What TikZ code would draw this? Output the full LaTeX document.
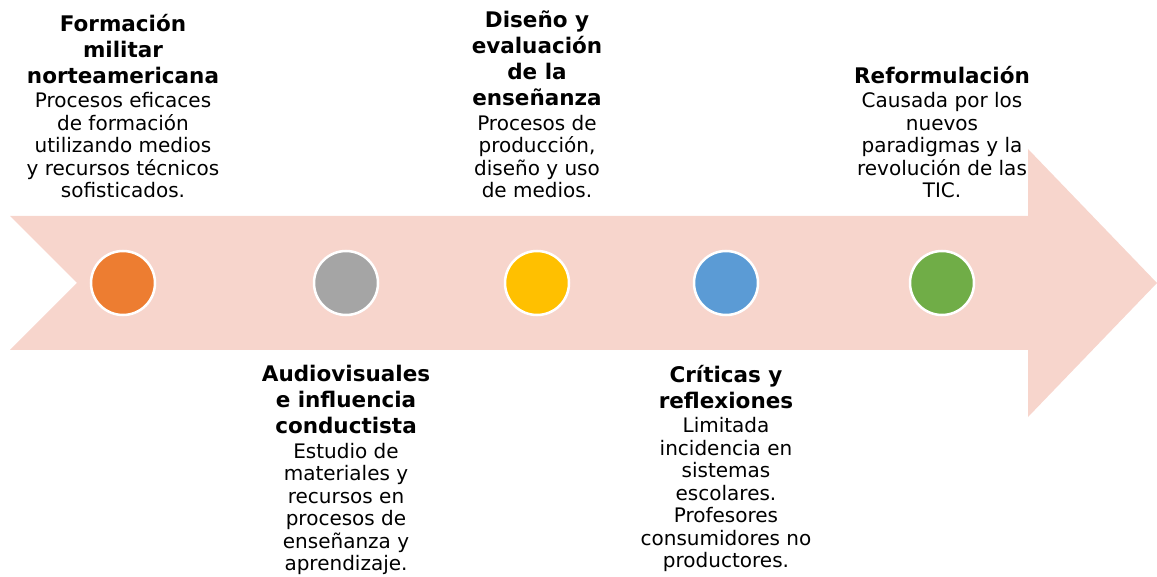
\documentclass[tikz,border=0pt]{standalone}
\usepackage{fontspec}
\setmainfont{DejaVu Sans}
\definecolor{flecha}{HTML}{F7D5CC}
\definecolor{naranja}{HTML}{ED7D31}
\definecolor{gris}{HTML}{A5A5A5}
\definecolor{amarillo}{HTML}{FFC000}
\definecolor{azul}{HTML}{5B9BD5}
\definecolor{verde}{HTML}{70AD47}
\newcommand{\titulo}[1]{{\fontsize{21.5}{22.5}\selectfont\bfseries #1}}

\begin{document}
\begin{tikzpicture}[x=1pt,y=-1pt,
                hito node/.style={circle, draw=white, line width=2.5pt, minimum size=64pt, inner sep=0pt},
                text node/.style={align=center, inner sep=0pt, font=\fontsize{20}{22.5}\selectfont}]
  \useasboundingbox (0,0) rectangle (1157,577);

  % flecha de fondo
  \fill[flecha] (10,216) -- (1028,216) -- (1028,149) -- (1157,283) -- (1028,417)
    -- (1028,350) -- (10,350) -- (77,283) -- cycle;

  \node[hito node, fill=naranja] (1) at (123,283) {};
  \node[hito node, fill=gris] (2) at (346,283) {};
  \node[hito node, fill=amarillo] (3) at (537,283) {};
  \node[hito node, fill=azul] (4) at (726,283) {};
  \node[hito node, fill=verde] (5) at (942,283) {};

  \node[text node, anchor=south] (t1) at (1 |- 0,198)
    {\titulo{Formación}\\[3.5pt] \titulo{militar}\\[3.5pt] \titulo{norteamericana}\\[2pt]
     Procesos eficaces\\ de formación\\ utilizando medios\\ y recursos técnicos\\ sofisticados.};
  \node[text node, anchor=north] (t2) at (2 |- 0,365)
    {\titulo{Audiovisuales}\\[3.5pt] \titulo{e influencia}\\[3.5pt] \titulo{conductista}\\[2pt]
     Estudio de\\ materiales y\\ recursos en\\ procesos de\\ enseñanza y\\ aprendizaje.};
  \node[text node, anchor=south] (t3) at (3 |- 0,198)
    {\titulo{Diseño y}\\[3.5pt] \titulo{evaluación}\\[3.5pt] \titulo{de la}\\[3.5pt] \titulo{enseñanza}\\[2pt]
     Procesos de\\ producción,\\ diseño y uso\\ de medios.};
  \node[text node, anchor=north] (t4) at (4 |- 0,365)
    {\titulo{Críticas y}\\[3.5pt] \titulo{reflexiones}\\[2pt]
     Limitada\\ incidencia en\\ sistemas\\ escolares.\\ Profesores\\ consumidores no\\ productores.};
  \node[text node, anchor=south] (t5) at (5 |- 0,198)
    {\titulo{Reformulación}\\[2pt]
     Causada por los\\ nuevos\\ paradigmas y la\\ revolución de las\\ TIC.};
\end{tikzpicture}
\end{document}
